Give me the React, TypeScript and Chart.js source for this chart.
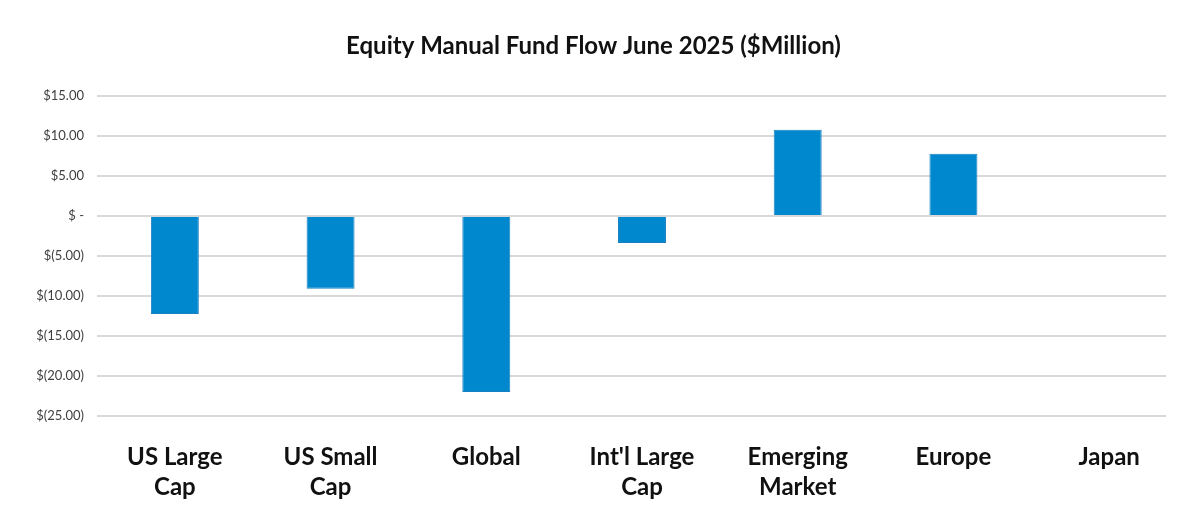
import React, { useEffect, useRef } from "react";
import { Chart, registerables } from "chart.js";

Chart.register(...registerables);

const categories: (string | string[])[] = [
  ["US Large", "Cap"],
  ["US Small", "Cap"],
  "Global",
  ["Int'l Large", "Cap"],
  ["Emerging", "Market"],
  "Europe",
  "Japan",
];
const flows: number[] = [-12.25, -9.1, -22.0, -3.4, 10.75, 7.75, 0];
const yMin = -25;
const yMax = 15;
const yStep = 5;
const titleText = "Equity Manual Fund Flow June 2025 ($Million)";

const fontFamily = "Lato, 'Noto Sans', sans-serif";

function fmt(v: number): string {
  if (v === 0) return "$ -";
  if (v < 0) return `$(${Math.abs(v).toFixed(2)})`;
  return `$${v.toFixed(2)}`;
}

// Gridlines in the reference stop short of the right end of the category band.
const gridStopPlugin = {
  id: "gridStop",
  beforeDatasetsDraw(chart: any) {
    const { ctx, chartArea } = chart;
    ctx.save();
    ctx.fillStyle = "#ffffff";
    ctx.fillRect(chartArea.right - 21, chartArea.top - 3, 30, chartArea.bottom - chartArea.top + 6);
    ctx.restore();
  },
};

export default function App() {
  const ref = useRef<HTMLCanvasElement | null>(null);
  useEffect(() => {
    if (!ref.current) return;
    const chart = new Chart(ref.current, {
      type: "bar",
      data: {
        labels: categories,
        datasets: [
          {
            data: flows,
            backgroundColor: "#0088CE",
            borderColor: "#1a7fc0",
            borderWidth: 1,
            categoryPercentage: 1,
            barPercentage: 0.308,
          },
        ],
      },
      plugins: [gridStopPlugin],
      options: {
        animation: false,
        responsive: false,
        maintainAspectRatio: false,
        layout: { padding: { left: 0, right: 13, top: 0, bottom: 0 } },
        plugins: {
          legend: { display: false },
          tooltip: { enabled: false },
          title: {
            display: true,
            text: titleText,
            color: "#111111",
            font: { family: fontFamily, size: 24, weight: "bold" },
            padding: { top: 32, bottom: 35 },
          },
        },
        scales: {
          x: {
            grid: { display: false, drawTicks: false },
            border: { display: false },
            ticks: {
              color: "#111111",
              font: { family: fontFamily, size: 24, weight: "bold", lineHeight: 1.25 },
              padding: 26,
              maxRotation: 0,
              autoSkip: false,
            },
            afterFit: (s: any) => {
              s.height = 115;
            },
          },
          y: {
            min: yMin,
            max: yMax,
            grid: { color: "#d9d9d9", lineWidth: 2, drawTicks: false },
            border: { display: false },
            ticks: {
              stepSize: yStep,
              color: "#404040",
              font: { family: fontFamily, size: 13 },
              padding: 13,
              callback: (v: any) => fmt(Number(v)),
            },
            afterFit: (s: any) => {
              s.width = 97;
            },
          },
        },
      },
    });
    return () => chart.destroy();
  }, []);
  return (
    <div style={{ position: "absolute", left: 0, top: 0, width: 1200, height: 531, background: "#fff" }}>
      <canvas ref={ref} width={1200} height={531} style={{ width: 1200, height: 531 }} />
    </div>
  );
}
